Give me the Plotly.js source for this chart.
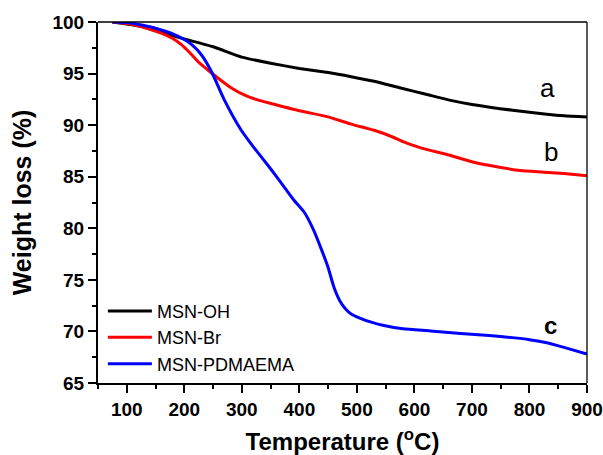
<!DOCTYPE html>
<html>
<head>
<meta charset="utf-8">
<script src="https://cdn.plot.ly/plotly-3.0.1.min.js"></script>
<style>html,body{margin:0;padding:0;background:#fff;}#chart{width:603px;height:455px;}</style>
</head>
<body>
<div id="chart"></div>
<script>
// Temperature (°C) and weight (%)
const tempOH = [75, 100, 126, 150, 178, 200, 250, 300, 350, 400, 450, 490, 530, 576, 620, 663, 700, 749, 800, 830, 860, 900];
const weightOH = [100, 99.8, 99.55, 99.2, 98.7, 98.35, 97.6, 96.6, 96.0, 95.5, 95.1, 94.7, 94.25, 93.6, 93.0, 92.4, 92.0, 91.6, 91.25, 91.05, 90.9, 90.8];

const tempBr = [75, 100, 114, 140, 161, 180, 195, 210, 225, 242, 260, 282, 305, 330, 351, 400, 450, 490, 530, 560, 580, 611, 660, 703, 750, 784, 820, 860, 900];
const weightBr = [100, 99.85, 99.7, 99.3, 98.9, 98.4, 97.8, 97.0, 96.1, 95.3, 94.5, 93.6, 92.9, 92.4, 92.1, 91.4, 90.8, 90.1, 89.5, 88.9, 88.4, 87.8, 87.1, 86.4, 85.9, 85.6, 85.45, 85.3, 85.1];

const tempPD = [75, 100, 126, 150, 178, 200, 213, 230, 248, 270, 299, 320, 351, 375, 391, 408, 425, 438, 450, 460, 470, 480, 490, 505, 525, 545, 580, 628, 680, 730, 770, 800, 830, 860, 900];
const weightPD = [100, 99.95, 99.7, 99.4, 98.9, 98.3, 97.8, 96.8, 95.1, 92.4, 89.5, 87.9, 85.7, 83.9, 82.7, 81.6, 79.8, 78.0, 76.2, 74.3, 73.0, 72.2, 71.7, 71.3, 70.9, 70.6, 70.25, 70.05, 69.8, 69.6, 69.4, 69.2, 68.9, 68.45, 67.8];

const seriesNames = ['MSN-OH', 'MSN-Br', 'MSN-PDMAEMA'];
const curveLabels = ['a', 'b', '<b>c</b>'];
const labelX = [831, 838, 836];
const labelY = [93.6, 87.4, 70.6];
const xTicks = [100, 200, 300, 400, 500, 600, 700, 800, 900];
const yTicks = [65, 70, 75, 80, 85, 90, 95, 100];

const colors = ['#000000', '#ff0000', '#0000ff'];
const xs = [tempOH, tempBr, tempPD];
const ys = [weightOH, weightBr, weightPD];

const traces = seriesNames.map((n, i) => ({
  type: 'scatter', mode: 'lines', name: n,
  x: xs[i], y: ys[i],
  line: {color: colors[i], width: 3, shape: 'spline', smoothing: 0.5}
}));

const font = 'Liberation Sans, Arial, sans-serif';
const layout = {
  width: 603, height: 455,
  margin: {l: 98, r: 16, t: 22, b: 72},
  paper_bgcolor: '#fff', plot_bgcolor: '#fff',
  showlegend: true,
  legend: {x: 0.01, y: 0.25, xanchor: 'left', yanchor: 'top', bgcolor: 'rgba(0,0,0,0)',
           itemwidth: 44,
           font: {family: font, size: 18, color: '#000'}, tracegroupgap: 0},
  xaxis: {
    range: [50, 900], showgrid: false, zeroline: false,
    tickmode: 'array', tickvals: xTicks, ticktext: xTicks.map(String),
    ticks: 'outside', ticklen: 8, tickwidth: 2, tickcolor: '#000',
    showline: true, linecolor: '#000', linewidth: 2,
    tickfont: {family: font, size: 19, color: '#000', weight: 'bold'},
    minor: {dtick: 50, tick0: 50, ticks: 'outside', ticklen: 4, tickwidth: 2, tickcolor: '#000', showgrid: false},
    title: {text: 'Temperature (<sup>o</sup>C)', standoff: 14,
            font: {family: font, size: 24, color: '#000', weight: 'bold'}}
  },
  yaxis: {
    range: [65, 100], showgrid: false, zeroline: false,
    tickmode: 'array', tickvals: yTicks, ticktext: yTicks.map(String),
    ticks: 'outside', ticklen: 8, tickwidth: 2, tickcolor: '#000',
    showline: true, linecolor: '#000', linewidth: 2,
    tickfont: {family: font, size: 19, color: '#000', weight: 'bold'},
    minor: {dtick: 2.5, tick0: 65, ticks: 'outside', ticklen: 4, tickwidth: 2, tickcolor: '#000', showgrid: false},
    title: {text: 'Weight loss (%)', standoff: 14,
            font: {family: font, size: 25, color: '#000', weight: 'bold'}}
  },
  shapes: [
    {type: 'line', xref: 'paper', yref: 'paper', x0: 0, x1: 1, y0: 1, y1: 1, line: {color: '#000', width: 1.3}},
    {type: 'line', xref: 'paper', yref: 'paper', x0: 1, x1: 1, y0: 0, y1: 1, line: {color: '#000', width: 1.3}}
  ],
  annotations: curveLabels.map((t, i) => ({
    x: labelX[i], y: labelY[i], xref: 'x', yref: 'y', text: t, showarrow: false,
    font: {family: font, size: i === 2 ? 24 : 26, color: '#000'}
  }))
};

Plotly.newPlot('chart', traces, layout, {displayModeBar: false, staticPlot: true});
</script>
</body>
</html>
